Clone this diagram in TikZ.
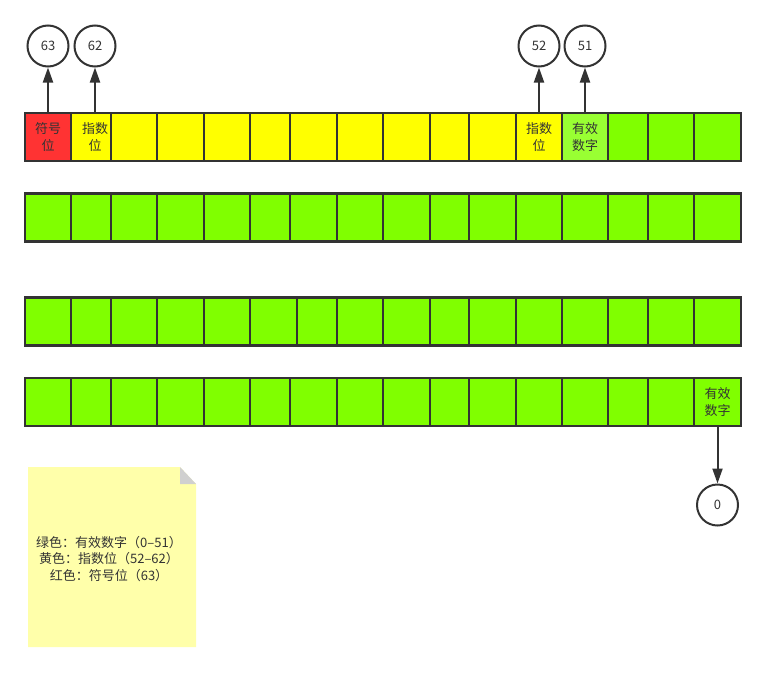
\documentclass[tikz,border=0pt]{standalone}
\usepackage{fontspec}
\setmainfont{Noto Sans CJK SC}
\usetikzlibrary{arrows.meta}
\definecolor{cred}{HTML}{FF3333}
\definecolor{cyel}{HTML}{FFFF00}
\definecolor{cgrn}{HTML}{80FF00}
\definecolor{clgrn}{HTML}{99FF33}
\definecolor{cline}{HTML}{333333}
\definecolor{cnote}{HTML}{FFFFAA}
\definecolor{cfold}{HTML}{D0D0D0}
\tikzset{
  cell/.style={draw=cline, line width=2.5pt, minimum height=48pt, inner sep=0pt, text=cline, align=center, font=\fontsize{13}{17}\selectfont},
  num/.style={circle, draw=cline, line width=2pt, minimum size=41pt, inner sep=0pt, text=cline, font=\fontsize{13}{15}\selectfont},
  arr/.style={draw=cline, line width=2pt, -{Triangle[length=15pt,width=10pt]}},
  notetext/.style={align=center, text=cline, font=\fontsize{13}{16.5}\selectfont}
}
\begin{document}
\begin{tikzpicture}[x=1pt,y=-1pt]
\useasboundingbox (0,0) rectangle (765,672);
% row 1
\foreach \a/\b/\c [count=\i] in {25/71/cred,71/111/cyel,111/157/cyel,157/204/cyel,204/250/cyel,250/290/cyel,290/337/cyel,337/383/cyel,383/430/cyel,430/469/cyel,469/516/cyel,516/562/cyel,562/608/clgrn,608/648/cgrn,648/694/cgrn,694/741/cgrn}
  \node[cell, fill=\c, minimum width={\b-\a}] (r1c\i) at ({(\a+\b)/2},137) {};
% row 2
\foreach \a/\b [count=\i] in {25/71,71/111,111/157,157/204,204/250,250/290,290/337,337/383,383/430,430/469,469/516,516/562,562/608,608/648,648/694,694/741}
  \node[cell, fill=cgrn, minimum width={\b-\a}] (r2c\i) at ({(\a+\b)/2},217.5) {};
% row 3
\foreach \a/\b [count=\i] in {25/71,71/111,111/157,157/204,204/250,250/297,297/337,337/383,383/430,430/469,469/516,516/562,562/608,608/648,648/694,694/741}
  \node[cell, fill=cgrn, minimum width={\b-\a}] (r3c\i) at ({(\a+\b)/2},321.5) {};
% row 4
\foreach \a/\b [count=\i] in {25/71,71/111,111/157,157/204,204/250,250/290,290/337,337/383,383/430,430/469,469/516,516/562,562/608,608/648,648/694,694/741}
  \node[cell, fill=cgrn, minimum width={\b-\a}] (r4c\i) at ({(\a+\b)/2},402) {};
% labels
\node[cell, draw=none, fill=none] (l1) at (r1c1) {符号\\位};
\node[cell, draw=none, fill=none] (l2) at (95,137) {指数\\位};
\node[cell, draw=none, fill=none] (l3) at (r1c12) {指数\\位};
\node[cell, draw=none, fill=none] (l4) at (r1c13) {有效\\数字};
\node[cell, draw=none, fill=none] (l5) at (r4c16) {有效\\数字};
% circles
\node[num] (n63) at (48,46) {63};
\node[num] (n62) at (95,46) {62};
\node[num] (n52) at (539,46) {52};
\node[num] (n51) at (585,46) {51};
\node[num] (n0) at (717.5,505) {0};
% arrows
\coordinate (s62) at (95,113);
\draw[arr] (r1c1.north) -- (n63.south);
\draw[arr] (s62) -- (n62.south);
\draw[arr] (r1c12.north) -- (n52.south);
\draw[arr] (r1c13.north) -- (n51.south);
\draw[arr] (r4c16.south) -- (n0.north);
% note
\fill[cnote] (28,467) -- (180,467) -- (196,484) -- (196,647) -- (28,647) -- cycle;
\fill[cfold] (180,467) -- (196,484) -- (180,484) -- cycle;
\node[notetext] (note) at (109,559) {绿色：有效数字（0–51）\\黄色：指数位（52–62）\\红色：符号位（63）};
\end{tikzpicture}
\end{document}
